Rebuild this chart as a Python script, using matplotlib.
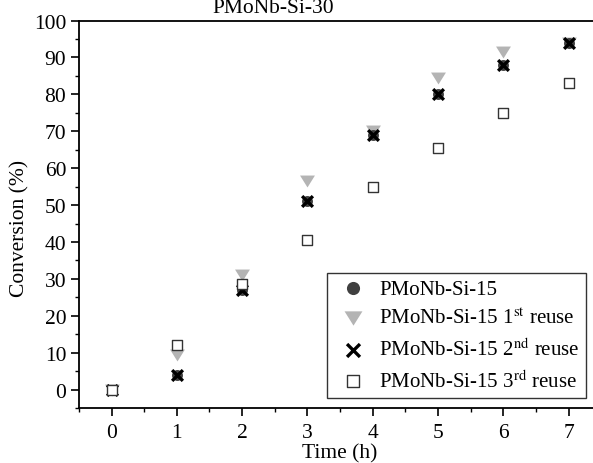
import numpy as np
import matplotlib.pyplot as plt

plt.rcParams['font.family'] = ['Liberation Serif', 'DejaVu Serif']
plt.rcParams['mathtext.fontset'] = 'stix'

# reaction time (h)
time_h = [0, 1, 2, 3, 4, 5, 6, 7]
# conversion (%) for each run
fresh = [0, 4, 27, 51, 69, 80, 88, 94]
reuse_1 = [0, 9.5, 31, 56.6, 70.2, 84.5, 91.5, 94]
reuse_2 = [0, 4, 27, 51, 69, 80, 88, 94]
reuse_3 = [0, 12, 28.5, 40.4, 55, 65.5, 75, 83]

labels = ["PMoNb-Si-15",
          "PMoNb-Si-15 1$^{\\mathrm{st}}$ reuse",
          "PMoNb-Si-15 2$^{\\mathrm{nd}}$ reuse",
          "PMoNb-Si-15 3$^{\\mathrm{rd}}$ reuse"]

FS = 15.5
# flattened down-pointing triangle, like the original
tri = [(-1, 0.8), (1, 0.8), (0, -0.8), (-1, 0.8)]

fig = plt.figure(figsize=(5.93, 4.64), dpi=100)
ax = fig.add_axes([0.133, 0.1185, 0.881, 0.835])

h2 = ax.scatter(time_h, reuse_1, marker=tri, s=115, color='#b4b4b4',
                linewidths=0, zorder=2, label=labels[1])
h1 = ax.scatter(time_h, fresh, marker='o', s=62, color='#404040',
                linewidths=0, zorder=3, label=labels[0])
h3 = ax.scatter(time_h, reuse_2, marker='x', s=60, color='black',
                linewidths=2.4, zorder=4, label=labels[2])
h4 = ax.scatter(time_h, reuse_3, marker='s', s=60, facecolor='white',
                edgecolor='#333333', linewidths=1.0, zorder=5,
                label=labels[3])

ax.set_xlim(-0.5, 7.5)
ax.set_ylim(-5, 100)
ax.set_xticks(np.arange(0, 8, 1))
ax.set_xticks(np.arange(-0.5, 7.6, 0.5), minor=True)
ax.set_yticks(np.arange(0, 101, 10))
ax.set_yticks(np.arange(-5, 101, 5), minor=True)
ax.tick_params(which='major', direction='out', length=6, width=1.2,
               labelsize=FS, top=False, right=False, pad=3)
ax.tick_params(axis='x', which='major', pad=5)
ax.tick_params(which='minor', direction='out', length=3, width=1.0,
               top=False, right=False)
for sp in ax.spines.values():
    sp.set_linewidth(1.3)

ax.set_xlabel("Time (h)", fontsize=FS, labelpad=1)
ax.set_ylabel("Conversion (%)", fontsize=FS)
ax.yaxis.set_label_coords(-0.094, 0.465)
fig.text(273 / 593, 1 - 13 / 464, "PMoNb-Si-30", fontsize=FS,
         ha='center', va='baseline')

leg = ax.legend(handles=[h1, h2, h3, h4], loc='lower right',
                bbox_to_anchor=(586 / 593, 1 - 399 / 464),
                bbox_transform=fig.transFigure, fontsize=15,
                frameon=True, fancybox=False, edgecolor='black',
                borderpad=0.3, labelspacing=0.45, handletextpad=0.3,
                handlelength=1.9, borderaxespad=0, markerscale=1.2)
leg.get_frame().set_linewidth(1.0)

fig.savefig("out.png", dpi=100)
